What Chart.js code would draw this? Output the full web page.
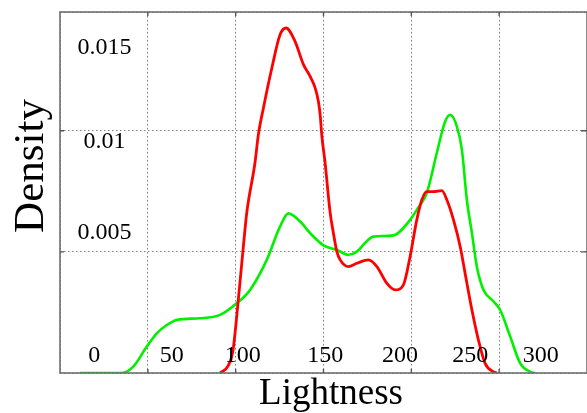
<!DOCTYPE html>
<html>
<head>
<meta charset="utf-8">
<script src="https://cdn.jsdelivr.net/npm/chart.js@4"></script>
<style>
  html, body { margin: 0; padding: 0; background: #fff; }
  #wrap { width: 587px; height: 413px; }
</style>
</head>
<body>
<div id="wrap"><canvas id="c" width="587" height="413"></canvas></div>
<script>
// ---- data ----
const redX = [91.1, 95.7, 98.5, 101.5, 104.2, 106.3, 111.0, 112.9, 115.8, 120.6, 125.3, 128.7, 133.8, 138.6, 142.4, 145.2, 147.1, 148.1, 149.0, 150.9, 153.8, 155.6, 157.6, 159.5, 164.2, 169.0, 175.6, 180.4, 186.0, 190.8, 195.5, 199.3, 203.1, 206.0, 208.8, 212.6, 217.4, 220.2, 224.0, 227.8, 230.6, 234.5, 238.2, 242.0, 246.8, 248.7];
const redY = [0, 0.00029, 0.00095, 0.00302, 0.00508, 0.00661, 0.00868, 0.00983, 0.01094, 0.01259, 0.01397, 0.01424, 0.01369, 0.01273, 0.01224, 0.01178, 0.01121, 0.01066, 0.00983, 0.00868, 0.00661, 0.00579, 0.00501, 0.00467, 0.00439, 0.00453, 0.00467, 0.00439, 0.00371, 0.00343, 0.00364, 0.00481, 0.00632, 0.00715, 0.00749, 0.00749, 0.00753, 0.00715, 0.00632, 0.00522, 0.00412, 0.00260, 0.00136, 0.00040, 0.00005, 0];
const greenX = [11.4, 35.1, 41.7, 49.4, 55.1, 60.8, 66.5, 79.7, 91.1, 100.6, 108.2, 117.7, 125.3, 130.0, 136.7, 142.4, 150.0, 157.6, 164.2, 169.0, 173.7, 178.4, 189.8, 199.3, 203.9, 208.8, 214.5, 219.2, 222.1, 225.9, 228.8, 231.6, 234.5, 237.3, 241.1, 246.8, 250.6, 256.3, 262.0, 267.7, 270.5];
const greenY = [0, 0, 0.00026, 0.00109, 0.00164, 0.00198, 0.00219, 0.00226, 0.00240, 0.00288, 0.00343, 0.00467, 0.00605, 0.00659, 0.00625, 0.00577, 0.00527, 0.00508, 0.00488, 0.00501, 0.00537, 0.00563, 0.00568, 0.00632, 0.00682, 0.00743, 0.00908, 0.01037, 0.01066, 0.01018, 0.00921, 0.00715, 0.00577, 0.00439, 0.00343, 0.00295, 0.00260, 0.00150, 0.00040, 0.00005, 0];

// tick labels and where they sit in the picture (data coordinates)
const xTickLabels = ["0", "50", "100", "150", "200", "250", "300"];
const xTickLabelPos = [19.5, 63.6, 104.0, 151.0, 193.6, 233.5, 273.7];
const xTickLabelY = 0.00072;
const yTickLabels = ["0.015", "0.01", "0.005"];
const yTickLabelPos = [0.01344, 0.00955, 0.00579];
const yTickLabelX = 25.4;

const xTitle = "Lightness";
const yTitle = "Density";

const toPts = (xs, ys) => xs.map((x, i) => ({x: x, y: ys[i]}));

const overlay = {
  id: 'overlay',
  afterDraw(chart) {
    const {ctx, chartArea: a, scales: {x, y}} = chart;
    ctx.save();
    // frame
    ctx.strokeStyle = '#6e6e6e';
    ctx.lineWidth = 1.6;
    ctx.strokeRect(a.left, a.top, a.right - a.left, a.bottom - a.top);
    // inward tick marks
    ctx.strokeStyle = '#555';
    ctx.lineWidth = 1.4;
    x.ticks.forEach(t => {
      if (t.value <= x.min || t.value >= x.max) return;
      const px = x.getPixelForValue(t.value);
      ctx.beginPath();
      ctx.moveTo(px, a.top); ctx.lineTo(px, a.top + 4);
      ctx.moveTo(px, a.bottom); ctx.lineTo(px, a.bottom - 4);
      ctx.stroke();
    });
    y.ticks.forEach(t => {
      if (t.value <= y.min || t.value >= y.max) return;
      const py = y.getPixelForValue(t.value);
      ctx.beginPath();
      ctx.moveTo(a.left, py); ctx.lineTo(a.left + 4, py);
      ctx.moveTo(a.right, py); ctx.lineTo(a.right - 6, py);
      ctx.stroke();
    });
    // tick labels
    ctx.fillStyle = '#000';
    ctx.font = '24px "Liberation Serif", "DejaVu Serif", serif';
    ctx.textAlign = 'center';
    ctx.textBaseline = 'middle';
    xTickLabels.forEach((s, i) => {
      ctx.fillText(s, x.getPixelForValue(xTickLabelPos[i]), y.getPixelForValue(xTickLabelY));
    });
    yTickLabels.forEach((s, i) => {
      ctx.fillText(s, x.getPixelForValue(yTickLabelX), y.getPixelForValue(yTickLabelPos[i]));
    });
    // axis titles
    ctx.font = '37px "Liberation Serif", "DejaVu Serif", serif';
    ctx.textBaseline = 'alphabetic';
    ctx.fillText(xTitle, 331, 404);
    ctx.save();
    ctx.translate(43, 166);
    ctx.rotate(-Math.PI / 2);
    ctx.font = '43px "Liberation Serif", "DejaVu Serif", serif';
    ctx.fillText(yTitle, 0, 0);
    ctx.restore();
    ctx.restore();
  }
};

new Chart(document.getElementById('c'), {
  type: 'scatter',
  data: {
    datasets: [
      { label: 'red', data: toPts(redX, redY), showLine: true, borderColor: '#ff0000', borderWidth: 2.8, pointRadius: 0, cubicInterpolationMode: 'monotone', fill: false },
      { label: 'green', data: toPts(greenX, greenY), showLine: true, borderColor: '#00f000', borderWidth: 2.6, pointRadius: 0, cubicInterpolationMode: 'monotone', fill: false }
    ]
  },
  options: {
    responsive: false,
    animation: false,
    events: [],
    layout: { padding: { left: 60, top: 12, right: 0, bottom: 40 } },
    plugins: { legend: { display: false }, tooltip: { enabled: false }, title: { display: false } },
    scales: {
      x: {
        type: 'linear', min: 0, max: 300,
        ticks: { display: false, stepSize: 50 },
        grid: { color: '#808080', lineWidth: 1, drawTicks: false },
        border: { display: false, dash: [1.5, 2.5] },
        afterFit(s) { s.height = 0; }
      },
      y: {
        type: 'linear', min: 0, max: 0.0149,
        ticks: { display: false, stepSize: 0.005 },
        grid: { color: '#808080', lineWidth: 1, drawTicks: false },
        border: { display: false, dash: [1.5, 2.5] },
        afterFit(s) { s.width = 0; }
      }
    }
  },
  plugins: [overlay]
});
</script>
</body>
</html>
